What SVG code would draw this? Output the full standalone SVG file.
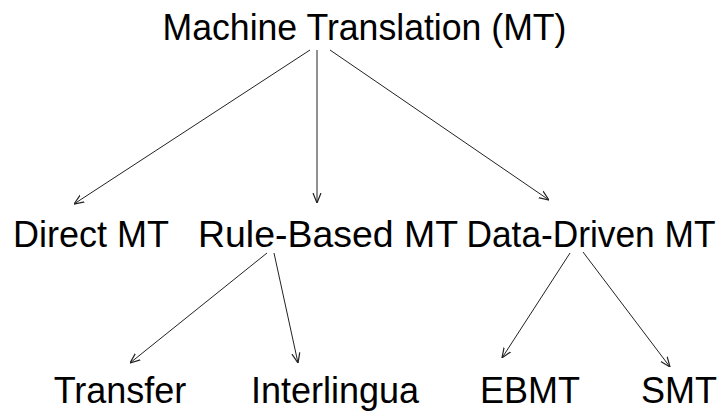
<svg xmlns="http://www.w3.org/2000/svg" width="720" height="412" viewBox="0 0 720 412">
  <style>
    .label { font-family: "Liberation Sans", Arial, sans-serif; font-size: 36px; fill: #000; text-anchor: middle; }
    .edge { stroke: #222; stroke-width: 1; fill: none; marker-end: url(#arrow); }
  </style>
  <defs>
    <marker id="arrow" viewBox="0 0 10 10" refX="10" refY="5" markerWidth="10" markerHeight="10" markerUnits="userSpaceOnUse" orient="auto">
      <path d="M0,1 L10,5 L0,9" fill="none" stroke="#222" stroke-width="1.2"/>
    </marker>
  </defs>
  <rect width="720" height="412" fill="#fff"/>

  <g id="connectors">
    <line class="edge" x1="310" y1="50" x2="74" y2="204"/>
    <line class="edge" x1="317" y1="50" x2="317" y2="203"/>
    <line class="edge" x1="330" y1="50" x2="549" y2="200"/>
    <line class="edge" x1="267" y1="253" x2="130" y2="363"/>
    <line class="edge" x1="274" y1="253" x2="298" y2="363"/>
    <line class="edge" x1="570" y1="253" x2="502" y2="358"/>
    <line class="edge" x1="583" y1="252" x2="670" y2="367"/>
  </g>

  <g id="mt"><text class="label" x="364.5" y="40" textLength="404" lengthAdjust="spacingAndGlyphs">Machine Translation (MT)</text></g>
  <g id="direct"><text class="label" x="91" y="247">Direct MT</text></g>
  <g id="rule-based"><text class="label" x="328" y="247" textLength="260" lengthAdjust="spacingAndGlyphs">Rule-Based MT</text></g>
  <g id="data-driven"><text class="label" x="591" y="247" textLength="249" lengthAdjust="spacingAndGlyphs">Data-Driven MT</text></g>
  <g id="transfer"><text class="label" x="120" y="403">Transfer</text></g>
  <g id="interlingua"><text class="label" x="335" y="403">Interlingua</text></g>
  <g id="ebmt"><text class="label" x="530" y="403">EBMT</text></g>
  <g id="smt"><text class="label" x="679" y="403">SMT</text></g>
</svg>
